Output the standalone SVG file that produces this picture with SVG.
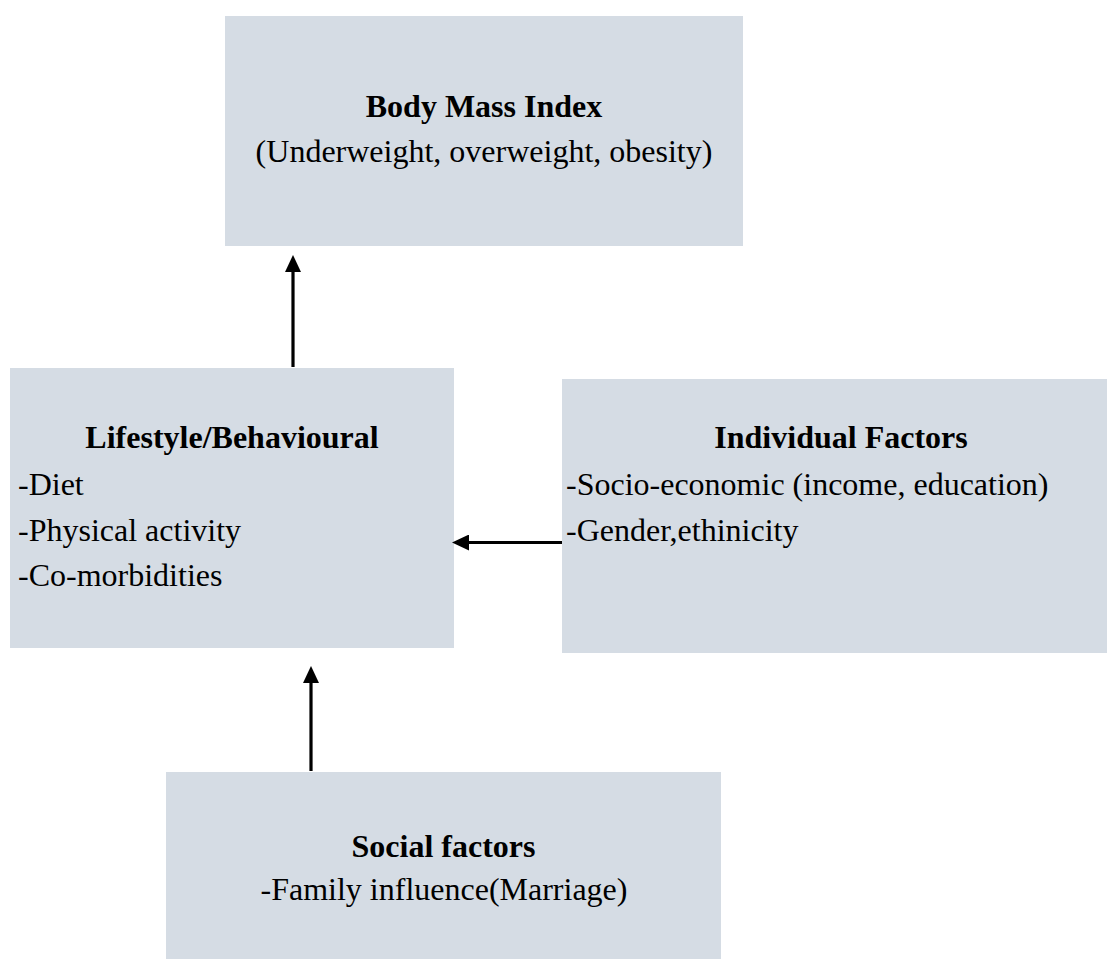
<svg xmlns="http://www.w3.org/2000/svg" width="1107" height="959" viewBox="0 0 1107 959">
  <defs>
    <style>
      .box { fill: #D5DCE4; }
      .t { font-family: "Liberation Serif", "Times New Roman", serif; font-size: 32px; fill: #000; }
      .b { font-weight: bold; }
      .c { text-anchor: middle; }
      .conn { stroke: #000; stroke-width: 3.2; fill: none; marker-end: url(#arrow); }
    </style>
    <marker id="arrow" viewBox="0 0 17 16" refX="0" refY="8" markerWidth="17" markerHeight="16" markerUnits="userSpaceOnUse" orient="auto">
      <path d="M0,0 L17,8 L0,16 z" fill="#000"/>
    </marker>
  </defs>
  <rect width="1107" height="959" fill="#fff"/>

  <g id="node-bmi">
    <rect class="box" x="225" y="16" width="518" height="230"/>
    <text class="t b c" x="484" y="117">Body Mass Index</text>
    <text class="t c" x="484" y="162">(Underweight, overweight, obesity)</text>
  </g>

  <g id="node-lifestyle">
    <rect class="box" x="10" y="368" width="444" height="280"/>
    <text class="t b c" x="232" y="448">Lifestyle/Behavioural</text>
    <text class="t" x="18" y="495">-Diet</text>
    <text class="t" x="18" y="540.5">-Physical activity</text>
    <text class="t" x="18" y="586">-Co-morbidities</text>
  </g>

  <g id="node-individual">
    <rect class="box" x="562" y="379" width="545" height="274"/>
    <text class="t b c" x="841" y="448">Individual Factors</text>
    <text class="t" x="566" y="495">-Socio-economic (income, education)</text>
    <text class="t" x="566" y="540.5">-Gender,ethinicity</text>
  </g>

  <g id="node-social">
    <rect class="box" x="166" y="772" width="555" height="187"/>
    <text class="t b c" x="443.5" y="857">Social factors</text>
    <text class="t c" x="444" y="900">-Family influence(Marriage)</text>
  </g>

  <g id="connectors">
    <path class="conn" d="M293,367 L293,272"/>
    <path class="conn" d="M562,542.5 L469,542.5"/>
    <path class="conn" d="M311,771 L311,683"/>
  </g>
</svg>
